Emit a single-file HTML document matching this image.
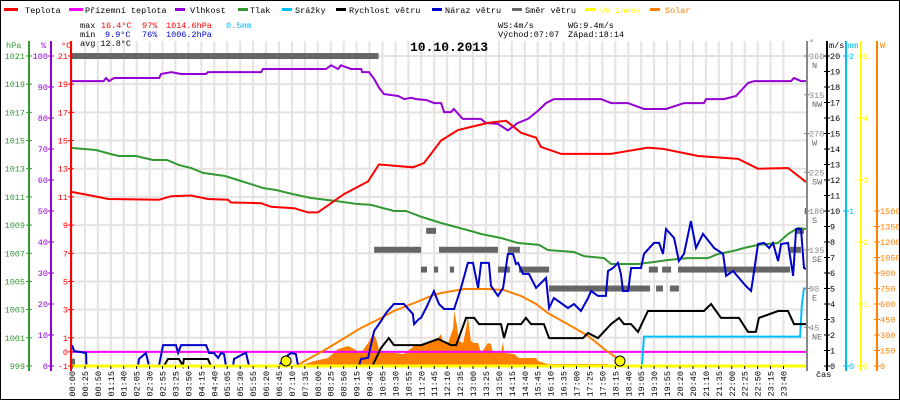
<!DOCTYPE html>
<html><head><meta charset="utf-8">
<style>
html,body{margin:0;padding:0;background:#fff}
#wrap{position:relative;width:898px;height:398px;border:1px solid #000;overflow:hidden;background:#fff}
svg{position:absolute;left:0;top:0}
text{font-family:"Liberation Mono",monospace;font-size:8.5px}
</style></head>
<body>
<div id="wrap">
<svg id="chart" width="900" height="400" viewBox="0 0 900 400"></svg>
</div>
<script>
// ===== data =====
const tempT=[0,0.63,1.2,2.9,3.3,3.96,4.52,5.19,5.29,6.29,6.62,7.39,7.85,8.18,9.05,9.85,10.21,11.34,11.71,12.28,12.84,13.84,14.44,14.94,15.44,15.6,16.27,17.93,19.16,19.69,20.83,22.16,22.82,23.82,24.42];
const tempV=[11.35,11.1,10.85,10.8,11.05,11.1,10.85,10.8,10.6,10.55,10.3,10.2,9.9,9.9,11.2,12.1,13.3,13.1,13.4,15.0,15.75,16.25,16.4,15.55,15.2,14.55,14.05,14.05,14.5,14.4,13.9,13.7,13.0,13.05,12.05];
const humT=[0,1.05,1.13,1.23,1.4,2.9,2.96,3.3,3.63,4.46,4.52,6.29,6.35,8.45,8.62,8.85,8.95,9.28,9.62,9.65,9.88,10.05,10.22,10.38,10.85,11.05,11.28,11.45,11.78,12.05,12.28,12.38,12.6,12.7,13.0,13.6,13.77,14.17,14.5,14.83,15.17,15.5,15.77,16.03,17.6,17.93,18.5,19.03,19.76,20.36,21.02,21.09,21.69,22.09,22.49,22.69,23.92,24.02,24.25,24.42];
const humV=[91.9,91.9,92.9,91.9,92.9,92.9,94.2,94.8,94.2,94.2,94.8,94.8,95.8,95.8,97.0,95.8,97.0,95.8,95.8,94.8,94.8,92.6,89.7,87.7,87.1,86.1,86.5,86.1,85.8,84.8,84.8,81.9,81.9,82.9,79.7,79.7,78.4,78.1,76.0,78.4,79.7,82.3,84.8,86.1,86.1,84.8,84.8,82.9,82.9,84.8,84.8,86.1,86.1,87.1,91.3,91.9,91.9,92.9,91.9,91.9];
const presT=[0,0.8,1.3,1.56,2.13,2.69,3.16,3.56,3.96,4.36,5.09,5.62,5.96,6.35,6.79,7.35,7.95,8.78,9.45,9.95,10.71,11.11,11.64,12.28,13.27,13.61,14.27,14.84,15.54,15.83,16.7,17.03,17.7,17.93,18.83,19.36,19.83,20.49,21.16,21.49,21.99,22.36,22.82,23.49,23.82,24.15,24.42];
const presV=[1014.47,1014.33,1014.04,1013.9,1013.9,1013.62,1013.62,1013.26,1013.05,1012.7,1012.48,1012.13,1011.9,1011.63,1011.49,1011.2,1010.92,1010.71,1010.5,1010.43,1010.0,1010.0,1009.57,1009.15,1008.58,1008.37,1008.08,1007.73,1007.59,1007.23,1007.09,1006.8,1006.66,1006.24,1006.24,1006.38,1006.52,1006.66,1006.66,1006.95,1007.16,1007.37,1007.59,1007.73,1008.37,1008.79,1008.72];
const windT=[0,3.06,3.19,3.56,3.69,3.72,4.52,4.62,9.99,10.28,10.54,10.71,11.62,12.18,12.61,12.78,13.11,13.38,13.54,14.27,14.37,14.5,14.94,15.1,15.27,15.7,15.87,17.0,17.17,17.5,17.93,18.2,18.36,18.6,18.83,19.16,21.02,21.26,21.59,22.19,22.49,22.75,22.85,23.49,23.82,24.02,24.42];
const windV=[0,0,0.45,0.45,0,0.45,0.45,0,0,1.16,1.8,1.35,1.35,1.74,1.35,1.35,3.1,3.1,2.7,2.7,1.8,2.7,2.7,3.1,2.7,2.7,1.8,1.8,2.13,1.8,2.7,3.1,2.7,2.7,2.2,3.55,3.55,4.0,3.1,3.1,2.2,2.2,3.1,3.55,3.55,2.7,2.7];
const gustT=[0,0.07,0.47,0.48,2.2,2.23,2.46,2.56,2.89,3.03,3.46,3.53,3.63,4.46,4.56,4.72,4.86,4.96,5.06,5.12,5.36,5.39,5.69,5.79,5.89,6.89,7.05,7.29,7.45,7.52,9.55,9.61,9.85,10.05,10.28,10.45,10.71,11.04,11.34,11.38,11.54,11.61,11.78,12.04,12.21,12.38,12.71,12.94,13.17,13.34,13.51,13.61,13.87,13.94,14.17,14.34,14.5,14.67,14.77,14.84,15.0,15.2,15.44,15.77,15.87,16.03,16.5,16.7,16.93,17.17,17.27,17.5,17.76,17.83,18.0,18.16,18.26,18.33,18.5,18.6,18.93,19.03,19.36,19.53,19.66,19.76,20.03,20.19,20.36,20.59,20.76,20.99,21.36,21.66,21.76,21.99,22.42,22.59,22.69,22.82,23.02,23.19,23.32,23.49,23.59,23.82,23.99,24.09,24.25,24.35,24.42];
const gustV=[1.35,0.97,0.84,0,0,0.45,0.84,0,0,1.35,1.35,0.84,1.35,1.35,0.84,0.84,0.52,0.84,0.77,0,0,0.45,0.77,0.84,0,0,0.52,0.84,0.77,0,0,0.45,0.52,2.26,2.9,3.42,4.0,4.0,3.35,2.7,3.03,3.1,3.74,4.84,4.0,3.68,3.68,5.03,6.65,6.65,5.03,6.65,6.65,5.16,4.52,5.03,7.23,7.23,6.58,6.65,5.94,5.94,5.03,5.68,3.74,4.39,3.74,4.0,3.55,4.39,4.84,4.52,4.52,6.13,6.32,6.65,5.94,4.84,4.84,6.32,6.32,7.23,7.94,7.94,7.23,8.84,8.26,6.77,7.23,9.35,7.61,8.52,7.61,7.23,5.81,6.13,5.16,4.84,6.13,7.87,7.94,7.61,7.94,6.77,7.87,7.94,5.81,8.84,8.84,6.32,6.26];
const rainT=[0,18.96,19.03,24.22,24.28,24.35,24.42];
const rainV=[0,0,0.19,0.19,0.4,0.5,0.5];
const solarMaxT=[7.45,8.52,9.61,10.28,10.71,11.38,12.04,12.28,13.04,13.84,14.37,14.94,15.44,15.83,16.6,17.17,17.7,18.16,18.36];
const solarMaxV=[0,174,368,465,532,610,687,706,745,745,735,677,600,513,387,290,165,68,0];
const solarT=[7.55,8.05,8.52,8.85,9.18,9.38,9.61,9.85,10.01,10.11,10.21,10.38,10.71,11.04,11.38,11.84,12.18,12.28,12.35,12.51,12.68,12.71,12.78,12.88,13.01,13.11,13.17,13.27,13.37,13.51,13.61,13.84,13.94,14.01,14.27,14.34,14.37,14.71,14.87,15.44,15.5,15.83,17.83,17.86];
const solarV=[0,48,77,165,194,165,126,223,310,271,165,126,126,116,194,223,271,310,223,223,368,532,435,242,223,368,484,242,223,223,126,223,213,126,126,242,126,116,77,77,48,19,19,0];
const dirStart=[0,0,10.05,11.61,11.78,12.04,12.21,12.57,14.17,14.5,14.87,15.87,19.19,19.43,19.63,19.89,20.16,23.89,24.1,24.38];
const dirEnd=[10.2,0.1,11.61,11.81,12.11,12.18,14.17,12.71,14.57,14.9,15.87,19.23,19.49,19.66,19.93,20.19,23.89,24.25,24.35,24.45];
const dirDeg=[360,5,135,112,157,112,135,112,112,135,112,90,112,90,112,90,112,135,157,180];
const groundT=[0,24.45];
const groundV=[0,0];
const uvT=[0,24.45];
const uvV=[0,0];
const sunEventT=[7.12,18.23];
const hpaTicks=[1021,1019,1017,1015,1013,1011,1009,1007,1005,1003,1001,999];
const humTicks=[100,90,80,70,60,50,40,30,20,10,0];
const tempTicks=[21,19,17,15,13,11,9,7,5,3,1,0,-1];
const dirTicks=[360,315,270,225,180,135,90,45];
const dirNames=["N","NW","W","SW","S","SE","E","NE"];
const msTicks=[20,19,18,17,16,15,14,13,12,11,10,9,8,7,6,5,4,3,2,1,0];
const mmTicks=[2,1,0];
const uvTicks=[5,4,3,2,1,0];
const wTicks=[1500,1350,1200,1050,900,750,600,450,300,150,0];
const timeLabels=["00:00","00:25","00:50","01:15","01:40","02:05","02:30","02:55","03:25","03:50","04:15","04:40","05:05","05:30","05:55","06:20","06:45","07:10","07:35","08:00","08:25","08:50","09:15","09:40","10:05","10:30","10:55","11:20","11:45","12:10","12:35","13:00","13:25","13:50","14:15","14:40","15:45","16:10","16:35","17:00","17:25","17:50","18:15","18:40","19:05","19:30","19:55","20:20","20:45","21:10","21:35","22:00","22:25","22:50","23:15","23:40"];

// ===== scales =====
const X0=71,PXH=30.06,PL=70,PR=806,PT=55,PB=365;
const xs=h=>X0+h*PXH;
const xl_=i=>71+i*(782.5-71)/(timeLabels.length-1);
const yT=t=>55+(21-t)*14.09;
const yP=p=>55+(1021-p)*14.09;
const yH=v=>55+(100-v)*3.1;
const yV=v=>365-v*15.5;
const yD=d=>365-d*0.861;
const yR=v=>365-v*155;
const yU=v=>365-v*62;
const yW=w=>365-w*0.10333;

const NS='http://www.w3.org/2000/svg';
const svg=document.getElementById('chart');
function mk(tag,attrs,parent){const e=document.createElementNS(NS,tag);for(const k in attrs)e.setAttribute(k,attrs[k]);(parent||svg).appendChild(e);return e;}
function txt(s,x,y,fill,anchor,parent){const e=mk('text',{x:x,y:y,fill:fill,'text-anchor':anchor||'start'},parent);e.textContent=s;return e;}

// grid
const grid=mk('g',{});


tempTicks.forEach(t=>{if(t!==0){const l=mk('line',{x1:PL,x2:PR,y1:yT(t),y2:yT(t),stroke:'#e6e2e2','stroke-width':2},grid);

}});
timeLabels.forEach((s,i)=>{const l=mk('line',{x1:xl_(i),x2:xl_(i),y1:40,y2:PB,stroke:'#e6e2e2','stroke-width':2},grid);

});

// clip
const defs=mk('defs',{});
const cp=mk('clipPath',{id:'plotclip'},defs);mk('rect',{x:PL,y:40,width:PR-PL,height:330},cp);
const plot=mk('g',{'clip-path':'url(#plotclip)'});



function line(T,V,ys,color,name,w){
  const pts=T.map((t,i)=>xs(t).toFixed(1)+','+ys(V[i]).toFixed(1)).join(' ');
  const p=mk('polyline',{points:pts,fill:'none',stroke:color,'stroke-width':w||2,'stroke-linejoin':'miter'},plot);
  
  
  return p;
}
// solar area
{
  const pts=[xs(solarT[0]).toFixed(1)+','+yW(0)];
  solarT.forEach((t,i)=>pts.push(xs(t).toFixed(1)+','+yW(solarV[i]).toFixed(1)));
  pts.push(xs(solarT[solarT.length-1]).toFixed(1)+','+yW(0));
  const p=mk('polygon',{points:pts.join(' '),fill:'#ff8000',stroke:'none'},plot);
  
  
}
// wind direction bars
dirDeg.forEach((d,i)=>{
  const r=mk('rect',{x:xs(dirStart[i]),y:yD(d)-3,width:Math.max(2,xs(dirEnd[i])-xs(dirStart[i])),height:6,fill:'#666'},plot);
  
  
});
line(groundT,groundV,yT,'#ff00ff','ground-temperature-line',2);
line(solarMaxT,solarMaxV,yW,'#ff8000','solar-theoretical-line',2);
line(presT,presV,yP,'#339933','pressure-line',2);
line(humT,humV,yH,'#9400d3','humidity-line',2);
line(tempT,tempV,yT,'#ff0000','temperature-line',2);
line(rainT,rainV,yR,'#00bfff','rain-line',2);
line(windT,windV,yV,'#000','wind-speed-line',2);
line(gustT,gustV,yV,'#0000cc','wind-gust-line',2);
line(uvT,uvV,yU,'#ffff00','uv-index-line',3);
sunEventT.forEach(t=>{const c=mk('circle',{cx:xs(t),cy:360,r:5,fill:'#ffff00',stroke:'#000','stroke-width':1},plot);

});

// x labels
const xl=mk('g',{});


timeLabels.forEach((s,i)=>{const x=xl_(i);
  mk('line',{x1:x,x2:x,y1:365,y2:368,stroke:'#000'},xl);
  const t=txt(s,0,0,'#000','end',xl);t.setAttribute('transform','translate('+(x+3)+',370) rotate(-90)');
  
  });

// axes
function axis(x,color,ticks,yf,lx,anchor,name){
  const g=mk('g',{});
  
  
  mk('line',{x1:x,x2:x,y1:40,y2:370,stroke:color,'stroke-width':2},g);
  ticks.forEach(v=>{const y=yf(v);mk('line',{x1:x-3,x2:x+3,y1:y,y2:y,stroke:color},g);
    const t=txt(String(v),lx,y+3,color,anchor,g);
    
    });
  return g;
}
axis(28,'#339933',hpaTicks,yP,24,'end','pressure-axis');
axis(50,'#9400d3',humTicks,yH,47,'end','humidity-axis');
axis(70,'#ff0000',tempTicks,yT,67,'end','temperature-axis');
txt('hPa',5,47,'#339933');txt('%',40,47,'#9400d3');txt('°C',60,47,'#ff0000');
const ga=axis(806,'#888',dirTicks,yD,808,'start','wind-direction-axis');
dirTicks.forEach((d,i)=>{txt(dirNames[i],811,yD(d)+12,'#666','start',ga);});
axis(826,'#000',msTicks,yV,829,'start','wind-speed-axis');
axis(845,'#00bfff',mmTicks,yR,848,'start','rain-axis');
axis(860,'#ffff00',uvTicks,yU,862,'start','uv-axis');
{const g=mk('g',{});
 mk('line',{x1:876,x2:876,y1:40,y2:370,stroke:'#ff8000','stroke-width':2},g);
 wTicks.forEach(v=>{const y=yW(v);mk('line',{x1:873,x2:879,y1:y,y2:y,stroke:'#ff8000'},g);txt(String(v),879,y+3,'#ff8000','start',g);});}
txt('°',808,44,'#666');txt('m/s',828,47,'#000');txt('mm',847,47,'#00bfff');txt('W',879,47,'#ff8000');
txt('čas',815,376,'#000');
</script>
<svg width="900" height="60" style="position:absolute;left:0;top:0">
<g>
<g><rect x="4" y="8" width="14" height="3" fill="#f00"/><text x="25" y="13">Teplota</text></g>
<g><rect x="69" y="8" width="14" height="3" fill="#f0f"/><text x="85" y="13">Přízemní teplota</text></g>
<g><rect x="175" y="8" width="10" height="3" fill="#9400d3"/><text x="190" y="13">Vlhkost</text></g>
<g><rect x="238" y="8" width="10" height="3" fill="#393"/><text x="250" y="13">Tlak</text></g>
<g><rect x="282" y="8" width="10" height="3" fill="#00bfff"/><text x="295" y="13">Srážky</text></g>
<g><rect x="336" y="8" width="10" height="3" fill="#000"/><text x="349" y="13">Rychlost větru</text></g>
<g><rect x="432" y="8" width="10" height="3" fill="#00c"/><text x="445" y="13">Náraz větru</text></g>
<g><rect x="512" y="8" width="10" height="3" fill="#666"/><text x="525" y="13">Směr větru</text></g>
<g><rect x="585" y="8" width="10" height="3" fill="#ff0"/><text x="600" y="13" fill="#ff0">UV index</text></g>
<g><rect x="650" y="8" width="10" height="3" fill="#ff8000"/><text x="665" y="13" fill="#ff8000">Solar</text></g>
</g>
<g>
<text x="80" y="28">max</text><text x="101" y="28" fill="#f00">16.4°C</text><text x="142" y="28" fill="#f00">97%</text><text x="166" y="28" fill="#f00">1014.6hPa</text><text x="226" y="28" fill="#00bfff">0.5mm</text>
<text x="80" y="37">min</text><text x="105" y="37" fill="#00c">9.9°C</text><text x="142" y="37" fill="#00c">76%</text><text x="166" y="37" fill="#00c">1006.2hPa</text>
<text x="80" y="46">avg 12.8°C</text>
<text x="498" y="28">WS:4m/s</text><text x="568" y="28">WG:9.4m/s</text>
<text x="498" y="37">Východ:07:07</text><text x="568" y="37">Západ:18:14</text>
</g>
<text x="449" y="51" text-anchor="middle" style="font-size:13px;font-weight:bold">10.10.2013</text>
</svg>
</body></html>
